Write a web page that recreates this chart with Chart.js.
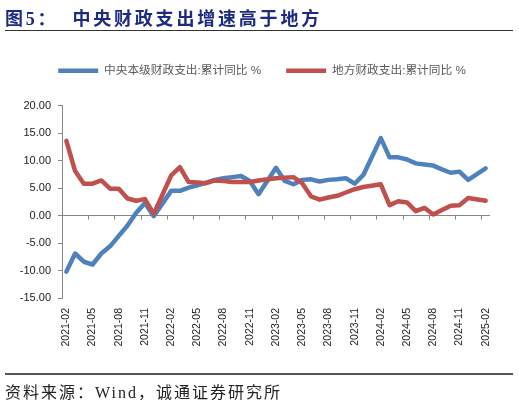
<!DOCTYPE html>
<html>
<head>
<meta charset="utf-8">
<script src="https://cdn.jsdelivr.net/npm/chart.js@4.4.1/dist/chart.umd.min.js"></script>
<style>
  html, body { margin: 0; padding: 0; background: #fff; }
  #wrap { position: relative; width: 519px; height: 405px; overflow: hidden; }
  #chart { position: absolute; left: 0; top: 0; }
  .title {
    position: absolute; left: 5px; top: 4px; white-space: nowrap;
    font: bold 18px 'Liberation Serif', 'Noto Sans CJK SC', serif;
    color: #1d2a82; letter-spacing: 2.8px;
  }
  .title .main { margin-left: 14px; }
  .rule { position: absolute; left: 5px; width: 508px; background: #333; }
  .source {
    position: absolute; left: 5px; top: 379px; white-space: nowrap;
    font: 16px 'Liberation Serif', 'Noto Sans CJK SC', serif; color: #222;
    letter-spacing: 2px;
  }
</style>
</head>
<body>
<div id="wrap">
  <canvas id="chart" width="519" height="405"></canvas>
  <div class="title">图5：<span class="main">中央财政支出增速高于地方</span></div>
  <div class="rule" style="top:30px;height:1px;"></div>
  <div class="rule" style="top:373px;height:2px;background:#555;"></div>
  <div class="source">资料来源：Wind，诚通证券研究所</div>
</div>
<script>
// Months 2021-02 .. 2025-02 (January has no published value)
const months = [
  '2021-02', '2021-03', '2021-04', '2021-05', '2021-06', '2021-07', '2021-08', '2021-09', '2021-10', '2021-11', '2021-12',
  '2022-01', '2022-02', '2022-03', '2022-04', '2022-05', '2022-06', '2022-07', '2022-08', '2022-09', '2022-10', '2022-11', '2022-12',
  '2023-01', '2023-02', '2023-03', '2023-04', '2023-05', '2023-06', '2023-07', '2023-08', '2023-09', '2023-10', '2023-11', '2023-12',
  '2024-01', '2024-02', '2024-03', '2024-04', '2024-05', '2024-06', '2024-07', '2024-08', '2024-09', '2024-10', '2024-11', '2024-12',
  '2025-01', '2025-02'
];

// 中央本级财政支出:累计同比 %
const centralSpend = [
  -10.2, -6.9, -8.4, -8.9, -6.9, -5.6, -3.7, -1.8, 0.5, 2.3, -0.1,
  null, 4.5, 4.5, 5.1, 5.5, 6.0, 6.5, 6.8, 7.0, 7.2, 6.3, 3.9,
  null, 8.7, 6.3, 5.7, 6.5, 6.6, 6.2, 6.5, 6.6, 6.8, 5.8, 7.4,
  null, 14.1, 10.6, 10.6, 10.2, 9.5, 9.3, 9.1, 8.4, 7.8, 8.0, 6.5,
  null, 8.6
];

// 地方财政支出:累计同比 %
const localSpend = [
  13.6, 8.1, 5.8, 5.8, 6.4, 4.9, 4.9, 3.1, 2.7, 3.0, 0.3,
  null, 7.3, 8.8, 6.1, 6.0, 5.9, 6.4, 6.3, 6.1, 6.1, 6.1, 6.4,
  null, 6.8, 6.9, 7.0, 5.9, 3.5, 2.9, 3.3, 3.6, 4.2, 4.8, 5.2,
  null, 5.7, 1.9, 2.6, 2.4, 0.8, 1.4, 0.2, 1.0, 1.8, 1.9, 3.2,
  null, 2.7
];

const seriesNames = ['中央本级财政支出:累计同比 %', '地方财政支出:累计同比 %'];
const seriesColors = ['#4f81bd', '#c0504d'];

const yMin = -15;
const yMax = 20;
const yStep = 5;
const labelEvery = 3;

const axisGrey = '#868686';
const chartFont = "'Liberation Sans', 'Noto Sans CJK SC', sans-serif";
const lineWidth = 4.5;

// Extra room between legend and plot, and nudge the legend to the right
const legendGap = {
  id: 'legendGap',
  beforeInit(chart) {
    const fit = chart.legend.fit;
    chart.legend.fit = function () {
      fit.call(this);
      this.height += 19;
    };
  },
  afterLayout(chart) {
    chart.legend.left += 17;
    chart.legend.right += 17;
  }
};

// Small tick marks hanging from the zero line, every third category
const zeroTicks = {
  id: 'zeroTicks',
  beforeDatasetsDraw(chart) {
    const { ctx, scales: { x, y } } = chart;
    const y0 = y.getPixelForValue(0);
    ctx.save();
    ctx.strokeStyle = axisGrey;
    ctx.lineWidth = 1;
    ctx.beginPath();
    for (let i = labelEvery - 1; i < months.length - 1; i += labelEvery) {
      const px = Math.round((x.getPixelForValue(i) + x.getPixelForValue(i + 1)) / 2) + 0.5;
      ctx.moveTo(px, y0);
      ctx.lineTo(px, y0 + 4);
    }
    ctx.stroke();
    ctx.restore();
  }
};

const ctx = document.getElementById('chart').getContext('2d');
new Chart(ctx, {
  type: 'line',
  data: {
    labels: months,
    datasets: [
      {
        label: seriesNames[0],
        data: centralSpend,
        borderColor: seriesColors[0],
        backgroundColor: seriesColors[0],
        pointBorderWidth: lineWidth,
        order: 1
      },
      {
        label: seriesNames[1],
        data: localSpend,
        borderColor: seriesColors[1],
        backgroundColor: seriesColors[1],
        pointBorderWidth: lineWidth,
        order: 0
      }
    ]
  },
  options: {
    responsive: false,
    animation: false,
    spanGaps: true,
    layout: { padding: { top: 40, right: 29, bottom: 47, left: 0 } },
    elements: {
      line: { borderWidth: lineWidth, tension: 0, borderJoinStyle: 'round', borderCapStyle: 'round' },
      point: { radius: 0, hoverRadius: 0 }
    },
    plugins: {
      tooltip: { enabled: false },
      legend: {
        position: 'top',
        labels: {
          usePointStyle: true,
          pointStyle: 'line',
          pointStyleWidth: 40,
          padding: 25,
          color: '#595959',
          font: { family: chartFont, size: 11.7 },
          sort: (a, b) => a.datasetIndex - b.datasetIndex
        }
      }
    },
    scales: {
      x: {
        type: 'category',
        offset: true,
        grid: { display: false, drawTicks: false },
        border: { display: false },
        ticks: {
          autoSkip: false,
          minRotation: 90,
          maxRotation: 90,
          padding: 10,
          color: '#222',
          font: { family: chartFont, size: 10.5 },
          callback: (v, i) => (i % labelEvery === 0 ? months[i] : '')
        },
        afterFit: (scale) => { scale.height = 60; }
      },
      y: {
        min: yMin,
        max: yMax,
        border: { display: true, color: axisGrey, width: 1 },
        grid: {
          color: (c) => (c.tick && c.tick.value === 0 ? axisGrey : 'rgba(0,0,0,0)'),
          tickColor: axisGrey,
          tickLength: 4,
          lineWidth: 1
        },
        ticks: {
          stepSize: yStep,
          padding: 7,
          color: '#222',
          font: { family: chartFont, size: 11 },
          callback: (v) => Number(v).toFixed(2)
        },
        afterFit: (scale) => { scale.width = 62; }
      }
    }
  },
  plugins: [legendGap, zeroTicks]
});
</script>
</body>
</html>
